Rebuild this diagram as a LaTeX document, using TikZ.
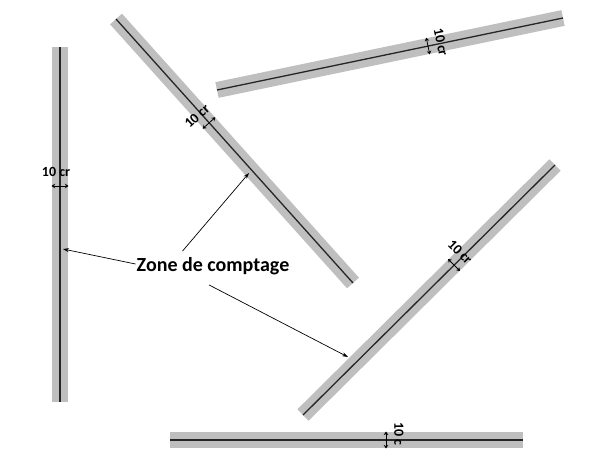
\documentclass[tikz,border=0pt]{standalone}
\usepackage{fontspec}
\setmainfont{Carlito}
\usetikzlibrary{arrows.meta,calc}
\definecolor{stripgray}{HTML}{BFBFBF}
\begin{document}
\begin{tikzpicture}[x=1pt,y=-1pt,
  stripbg/.style={line width=16pt, color=stripgray},
  stripline/.style={line width=1.3pt, color=black!85},
  dimarrow/.style={{Stealth[length=3.5pt,width=4.5pt]}-{Stealth[length=3.5pt,width=4.5pt]}, line width=0.8pt},
  dimlabel/.style={font=\bfseries\fontsize{14}{14}\selectfont, inner sep=0pt},
  callout/.style={-{Stealth[length=6pt,width=4pt]}, line width=0.7pt},
  zone/.style={font=\bfseries\fontsize{20}{20}\selectfont, inner sep=1pt}
]
\useasboundingbox (0,0) rectangle (599,450);
% strip end points
\coordinate (s1a) at (60,47);   \coordinate (s1b) at (60,402);
\coordinate (s2a) at (116,19);  \coordinate (s2b) at (353,283);
\coordinate (s3a) at (217,90);  \coordinate (s3b) at (563,18);
\coordinate (s4a) at (303,415); \coordinate (s4b) at (555,165);
\coordinate (s5a) at (170,440); \coordinate (s5b) at (523,440);
\foreach \s in {1,...,5}{
  \draw[stripbg] (s\s a) -- (s\s b);
  \draw[stripline] (s\s a) -- (s\s b);
}
% dimension arrows
\coordinate (c1) at (60,186);
\coordinate (c2) at (209,123);
\coordinate (c3) at (428,46);
\coordinate (c4) at (454,265);
\coordinate (c5) at (386,440);
\foreach \s in {1,...,5}{
  \draw[dimarrow] ($(c\s)!8.5pt!90:(s\s b)$) -- ($(c\s)!8.5pt!-90:(s\s b)$);
}
\node[dimlabel] (l1) at (56,172) {10 cr};
\node[dimlabel, rotate=42] (l2) at (197,116) {10 cr};
\node[dimlabel, rotate=-78] (l3) at (441,42) {10 cr};
\node[dimlabel, rotate=-45] (l4) at (460,252) {10 cr};
\node[dimlabel, rotate=-90] (l5) at (399,434) {10 c};
% callout
\node[zone] (zone) at (213,266) {Zone de comptage};
\coordinate (t1) at (63,249);
\coordinate (t2) at (249,173);
\coordinate (t3) at (348,357);
\draw[callout] ([yshift=2pt]zone.west) -- (t1);
\draw[callout] ([xshift=47pt,yshift=5pt]zone.north west) -- (t2);
\draw[callout] ([xshift=-4pt,yshift=-9pt]zone.south) -- (t3);
\end{tikzpicture}
\end{document}
